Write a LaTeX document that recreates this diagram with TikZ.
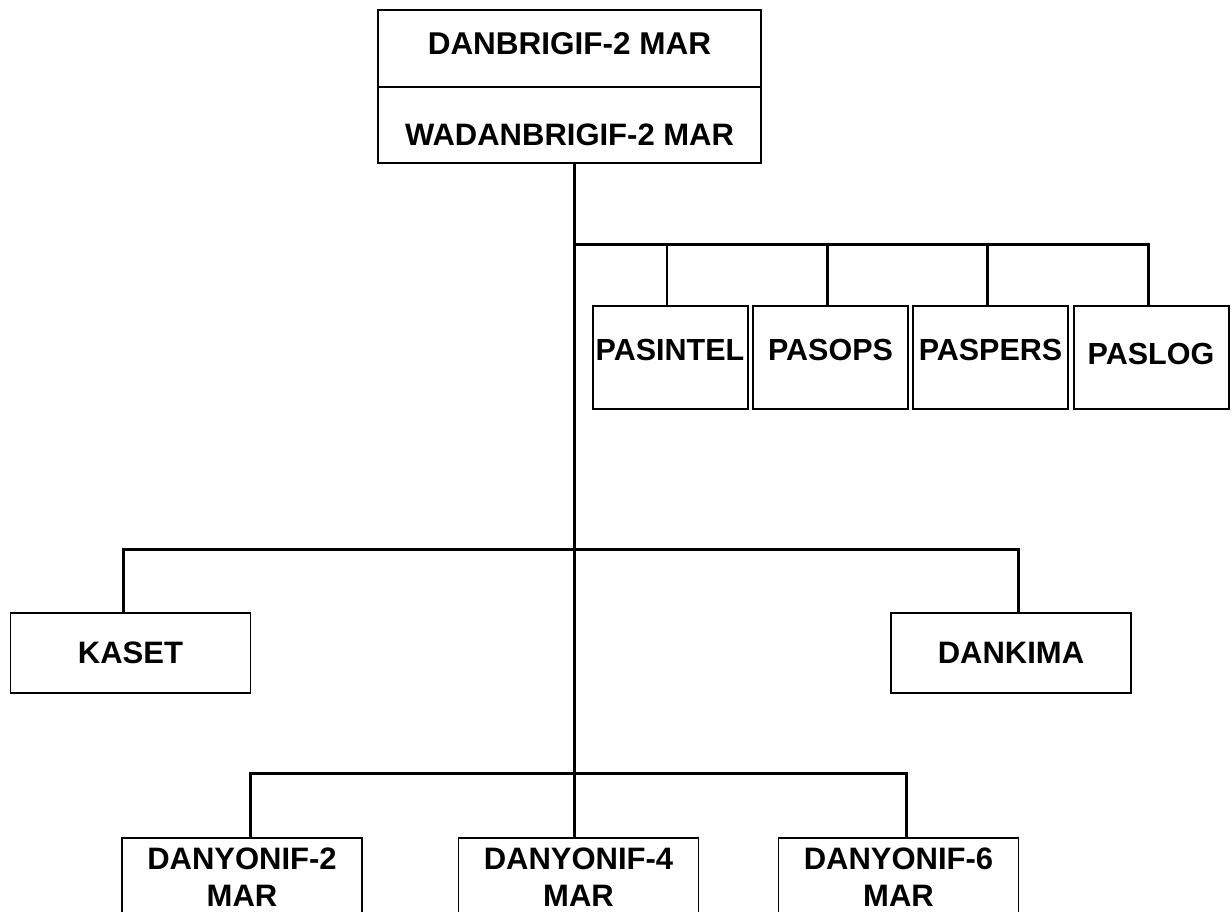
\documentclass[tikz,border=0pt]{standalone}
\usepackage{fontspec}
\setmainfont{Liberation Sans}
\begin{document}
\begin{tikzpicture}[x=1pt,y=-1pt,line join=miter]
	\tikzset{every node/.style={font=\bfseries\fontsize{31}{37}\selectfont},
		unit/.style={draw,line width=1.5pt,inner sep=0pt},
		staff/.style={unit,line width=2pt,minimum width=155pt,minimum height=103pt,text depth=16pt,font=\bfseries\fontsize{30.5}{36}\selectfont},
		troop/.style={unit,minimum width=240pt,minimum height=80pt},
		yon/.style={unit,anchor=north,minimum width=240pt,minimum height=79pt,align=center},
		bar/.style={line width=3pt},
		drop/.style={line width=2.5pt}}
	\useasboundingbox (0,0) rectangle (1232,912);
	\clip (0,0) rectangle (1232,912);
	% command
	\node[unit,minimum width=383pt,minimum height=77pt,text depth=9pt,font=\bfseries\fontsize{31.5}{38}\selectfont] (brig) at (569.5,48.5) {DANBRIGIF-2 MAR};
	\node[unit,minimum width=383pt,minimum height=76pt,text height=42pt] (wadan) at (569.5,125) {WADANBRIGIF-2 MAR};
	% staff
	\node[staff] (pasintel) at (670,357.5) {PASINTEL};
	\node[staff] (pasops) at (830.5,357.5) {PASOPS};
	\node[staff] (paspers) at (990.5,357.5) {PASPERS};
	\node[staff,text depth=8pt] (paslog) at (1151,357.5) {PASLOG};
	% support
	\node[troop] (kaset) at (130.5,653) {KASET};
	\node[troop] (dankima) at (1011,653) {DANKIMA};
	% battalions
	\node[yon] (danyon2) at (242,837) {DANYONIF-2\\MAR};
	\node[yon] (danyon4) at (578.5,837) {DANYONIF-4\\MAR};
	\node[yon] (danyon6) at (898.5,837) {DANYONIF-6\\MAR};
	\coordinate (staffbar) at (574,245);
	\coordinate (cmdbar) at (574,549);
	\coordinate (batbar) at (574,773);
	\draw[bar] (wadan.south -| staffbar) -- (danyon4.north -| staffbar);
	\draw[bar] (staffbar) -| ([xshift=-3pt]paslog.north);
	\foreach \n in {pasintel,pasops,paspers}
	\draw[drop] (\n.north) ++(-3,0) coordinate (d) -- (d |- staffbar);
	\draw[bar] ([xshift=-7pt]kaset.north) |- (cmdbar) -| ([xshift=7pt]dankima.north);
	\draw[bar] ([xshift=8pt]danyon2.north) |- (batbar) -| ([xshift=7.5pt]danyon6.north);
\end{tikzpicture}
\end{document}
